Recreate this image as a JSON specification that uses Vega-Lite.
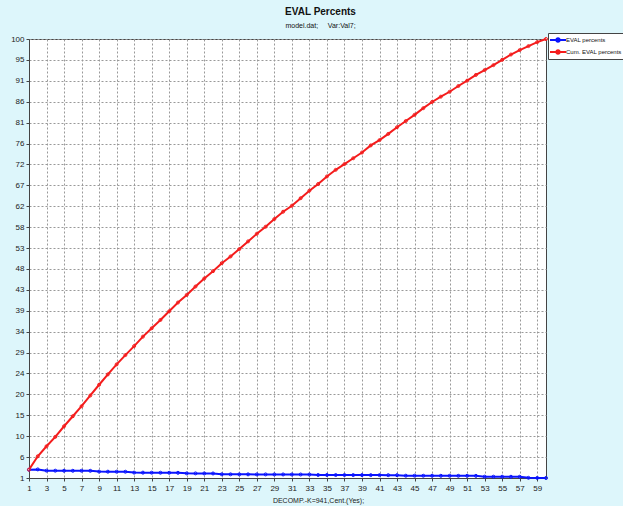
{
  "$schema": "https://vega.github.io/schema/vega-lite/v6.json",
  "width": 517,
  "height": 439,
  "autosize": {"type": "none"},
  "padding": {"left": 29, "top": 39, "right": 77, "bottom": 28},
  "background": "#ddf6fb",
  "title": {
    "text": "EVAL Percents",
    "subtitle": "model.dat;\u00a0\u00a0\u00a0\u00a0 Var:Val7;",
    "font": "Liberation Sans",
    "fontSize": 10,
    "fontWeight": "bold",
    "color": "#111",
    "subtitleFont": "Liberation Sans",
    "subtitleFontSize": 7,
    "subtitleColor": "#111",
    "subtitlePadding": 5,
    "anchor": "middle",
    "dx": 33,
    "offset": 4
  },
  "config": {
    "view": {"fill": "white", "stroke": "#444", "strokeWidth": 1},
    "font": "Liberation Sans"
  },
  "data": {
    "values": [
      {"k": 1, "series": "EVAL percents", "v": 2.87},
      {"k": 2, "series": "EVAL percents", "v": 2.94},
      {"k": 3, "series": "EVAL percents", "v": 2.66},
      {"k": 4, "series": "EVAL percents", "v": 2.65},
      {"k": 5, "series": "EVAL percents", "v": 2.64},
      {"k": 6, "series": "EVAL percents", "v": 2.63},
      {"k": 7, "series": "EVAL percents", "v": 2.63},
      {"k": 8, "series": "EVAL percents", "v": 2.62},
      {"k": 9, "series": "EVAL percents", "v": 2.44},
      {"k": 10, "series": "EVAL percents", "v": 2.43},
      {"k": 11, "series": "EVAL percents", "v": 2.42},
      {"k": 12, "series": "EVAL percents", "v": 2.41},
      {"k": 13, "series": "EVAL percents", "v": 2.22},
      {"k": 14, "series": "EVAL percents", "v": 2.21},
      {"k": 15, "series": "EVAL percents", "v": 2.2},
      {"k": 16, "series": "EVAL percents", "v": 2.19},
      {"k": 17, "series": "EVAL percents", "v": 2.18},
      {"k": 18, "series": "EVAL percents", "v": 2.17},
      {"k": 19, "series": "EVAL percents", "v": 2.05},
      {"k": 20, "series": "EVAL percents", "v": 2.04},
      {"k": 21, "series": "EVAL percents", "v": 2.03},
      {"k": 22, "series": "EVAL percents", "v": 2.02},
      {"k": 23, "series": "EVAL percents", "v": 1.84},
      {"k": 24, "series": "EVAL percents", "v": 1.83},
      {"k": 25, "series": "EVAL percents", "v": 1.82},
      {"k": 26, "series": "EVAL percents", "v": 1.82},
      {"k": 27, "series": "EVAL percents", "v": 1.81},
      {"k": 28, "series": "EVAL percents", "v": 1.81},
      {"k": 29, "series": "EVAL percents", "v": 1.8},
      {"k": 30, "series": "EVAL percents", "v": 1.8},
      {"k": 31, "series": "EVAL percents", "v": 1.79},
      {"k": 32, "series": "EVAL percents", "v": 1.79},
      {"k": 33, "series": "EVAL percents", "v": 1.78},
      {"k": 34, "series": "EVAL percents", "v": 1.68},
      {"k": 35, "series": "EVAL percents", "v": 1.68},
      {"k": 36, "series": "EVAL percents", "v": 1.67},
      {"k": 37, "series": "EVAL percents", "v": 1.67},
      {"k": 38, "series": "EVAL percents", "v": 1.66},
      {"k": 39, "series": "EVAL percents", "v": 1.66},
      {"k": 40, "series": "EVAL percents", "v": 1.65},
      {"k": 41, "series": "EVAL percents", "v": 1.65},
      {"k": 42, "series": "EVAL percents", "v": 1.64},
      {"k": 43, "series": "EVAL percents", "v": 1.64},
      {"k": 44, "series": "EVAL percents", "v": 1.52},
      {"k": 45, "series": "EVAL percents", "v": 1.52},
      {"k": 46, "series": "EVAL percents", "v": 1.51},
      {"k": 47, "series": "EVAL percents", "v": 1.51},
      {"k": 48, "series": "EVAL percents", "v": 1.5},
      {"k": 49, "series": "EVAL percents", "v": 1.5},
      {"k": 50, "series": "EVAL percents", "v": 1.49},
      {"k": 51, "series": "EVAL percents", "v": 1.49},
      {"k": 52, "series": "EVAL percents", "v": 1.48},
      {"k": 53, "series": "EVAL percents", "v": 1.3},
      {"k": 54, "series": "EVAL percents", "v": 1.29},
      {"k": 55, "series": "EVAL percents", "v": 1.29},
      {"k": 56, "series": "EVAL percents", "v": 1.28},
      {"k": 57, "series": "EVAL percents", "v": 1.28},
      {"k": 58, "series": "EVAL percents", "v": 1.04},
      {"k": 59, "series": "EVAL percents", "v": 1.02},
      {"k": 60, "series": "EVAL percents", "v": 1.0},
      {"k": 1, "series": "Cum. EVAL percents", "v": 2.88},
      {"k": 2, "series": "Cum. EVAL percents", "v": 5.89},
      {"k": 3, "series": "Cum. EVAL percents", "v": 8.15},
      {"k": 4, "series": "Cum. EVAL percents", "v": 10.27},
      {"k": 5, "series": "Cum. EVAL percents", "v": 12.67},
      {"k": 6, "series": "Cum. EVAL percents", "v": 14.93},
      {"k": 7, "series": "Cum. EVAL percents", "v": 17.19},
      {"k": 8, "series": "Cum. EVAL percents", "v": 19.61},
      {"k": 9, "series": "Cum. EVAL percents", "v": 22.03},
      {"k": 10, "series": "Cum. EVAL percents", "v": 24.36},
      {"k": 11, "series": "Cum. EVAL percents", "v": 26.62},
      {"k": 12, "series": "Cum. EVAL percents", "v": 28.72},
      {"k": 13, "series": "Cum. EVAL percents", "v": 30.75},
      {"k": 14, "series": "Cum. EVAL percents", "v": 32.88},
      {"k": 15, "series": "Cum. EVAL percents", "v": 34.76},
      {"k": 16, "series": "Cum. EVAL percents", "v": 36.64},
      {"k": 17, "series": "Cum. EVAL percents", "v": 38.6},
      {"k": 18, "series": "Cum. EVAL percents", "v": 40.57},
      {"k": 19, "series": "Cum. EVAL percents", "v": 42.29},
      {"k": 20, "series": "Cum. EVAL percents", "v": 44.18},
      {"k": 21, "series": "Cum. EVAL percents", "v": 45.99},
      {"k": 22, "series": "Cum. EVAL percents", "v": 47.64},
      {"k": 23, "series": "Cum. EVAL percents", "v": 49.45},
      {"k": 24, "series": "Cum. EVAL percents", "v": 50.96},
      {"k": 25, "series": "Cum. EVAL percents", "v": 52.62},
      {"k": 26, "series": "Cum. EVAL percents", "v": 54.36},
      {"k": 27, "series": "Cum. EVAL percents", "v": 56.08},
      {"k": 28, "series": "Cum. EVAL percents", "v": 57.66},
      {"k": 29, "series": "Cum. EVAL percents", "v": 59.4},
      {"k": 30, "series": "Cum. EVAL percents", "v": 61.05},
      {"k": 31, "series": "Cum. EVAL percents", "v": 62.4},
      {"k": 32, "series": "Cum. EVAL percents", "v": 64.1},
      {"k": 33, "series": "Cum. EVAL percents", "v": 65.8},
      {"k": 34, "series": "Cum. EVAL percents", "v": 67.3},
      {"k": 35, "series": "Cum. EVAL percents", "v": 69.0},
      {"k": 36, "series": "Cum. EVAL percents", "v": 70.5},
      {"k": 37, "series": "Cum. EVAL percents", "v": 71.8},
      {"k": 38, "series": "Cum. EVAL percents", "v": 73.1},
      {"k": 39, "series": "Cum. EVAL percents", "v": 74.4},
      {"k": 40, "series": "Cum. EVAL percents", "v": 76.0},
      {"k": 41, "series": "Cum. EVAL percents", "v": 77.2},
      {"k": 42, "series": "Cum. EVAL percents", "v": 78.6},
      {"k": 43, "series": "Cum. EVAL percents", "v": 80.1},
      {"k": 44, "series": "Cum. EVAL percents", "v": 81.5},
      {"k": 45, "series": "Cum. EVAL percents", "v": 82.9},
      {"k": 46, "series": "Cum. EVAL percents", "v": 84.4},
      {"k": 47, "series": "Cum. EVAL percents", "v": 85.8},
      {"k": 48, "series": "Cum. EVAL percents", "v": 87.0},
      {"k": 49, "series": "Cum. EVAL percents", "v": 88.1},
      {"k": 50, "series": "Cum. EVAL percents", "v": 89.4},
      {"k": 51, "series": "Cum. EVAL percents", "v": 90.6},
      {"k": 52, "series": "Cum. EVAL percents", "v": 91.9},
      {"k": 53, "series": "Cum. EVAL percents", "v": 93.0},
      {"k": 54, "series": "Cum. EVAL percents", "v": 94.1},
      {"k": 55, "series": "Cum. EVAL percents", "v": 95.3},
      {"k": 56, "series": "Cum. EVAL percents", "v": 96.5},
      {"k": 57, "series": "Cum. EVAL percents", "v": 97.5},
      {"k": 58, "series": "Cum. EVAL percents", "v": 98.4},
      {"k": 59, "series": "Cum. EVAL percents", "v": 99.3},
      {"k": 60, "series": "Cum. EVAL percents", "v": 100.0}
    ]
  },
  "mark": {
    "type": "line",
    "strokeWidth": 2,
    "clip": false,
    "point": {"filled": false, "size": 9, "strokeWidth": 1}
  },
  "encoding": {
    "x": {
      "field": "k",
      "type": "quantitative",
      "scale": {"domain": [1, 60], "nice": false, "zero": false},
      "axis": {
        "values": [1, 3, 5, 7, 9, 11, 13, 15, 17, 19, 21, 23, 25, 27, 29, 31, 33, 35, 37, 39, 41, 43, 45, 47, 49, 51, 53, 55, 57, 59],
        "title": "DECOMP.-K=941,Cent.(Yes);",
        "titleFontSize": 7,
        "titleFontWeight": "normal",
        "titleColor": "#222",
        "titleX": 289,
        "titleY": 18,
        "titleBaseline": "top",
        "titleAlign": "center",
        "labelFontSize": 8,
        "labelColor": "#222",
        "labelPadding": 3,
        "labelFlush": false,
        "tickSize": 3,
        "tickColor": "#444",
        "domainColor": "#444",
        "grid": true,
        "gridColor": "#999",
        "gridDash": [2, 2],
        "gridWidth": 1
      }
    },
    "y": {
      "field": "v",
      "type": "quantitative",
      "scale": {"domain": [1, 100], "nice": false, "zero": false},
      "axis": {
        "values": [1, 5.7142857, 10.4285714, 15.1428571, 19.8571429, 24.5714286, 29.2857143, 34, 38.7142857, 43.4285714, 48.1428571, 52.8571429, 57.5714286, 62.2857143, 67, 71.7142857, 76.4285714, 81.1428571, 85.8571429, 90.5714286, 95.2857143, 100],
        "labelExpr": "['1','6','10','15','20','24','29','34','39','43','48','53','58','62','67','72','76','81','86','91','95','100'][round((datum.value-1)*21/99)]",
        "title": null,
        "labelFontSize": 8,
        "labelColor": "#222",
        "labelPadding": 2,
        "labelFlush": false,
        "tickSize": 3,
        "tickColor": "#444",
        "domainColor": "#444",
        "grid": true,
        "gridColor": "#999",
        "gridDash": [2, 2],
        "gridWidth": 1
      }
    },
    "color": {
      "field": "series",
      "type": "nominal",
      "scale": {"domain": ["EVAL percents", "Cum. EVAL percents"], "range": ["#0a14ff", "#f41c1c"]},
      "legend": {
        "title": null,
        "orient": "none",
        "legendX": 519,
        "legendY": -6,
        "direction": "vertical",
        "fillColor": "white",
        "strokeColor": "#444",
        "padding": 1,
        "rowPadding": 0,
        "labelFontSize": 6,
        "labelColor": "#111",
        "labelOffset": 2,
        "labelLimit": 0,
        "symbolOffset": 3,
        "symbolType": "M-1.6,0H1.6M-0.35,0A0.35,0.35,0,1,1,0.35,0A0.35,0.35,0,1,1,-0.35,0",
        "symbolSize": 100,
        "symbolStrokeWidth": 2,
        "symbolFillColor": "transparent"
      }
    }
  }
}
